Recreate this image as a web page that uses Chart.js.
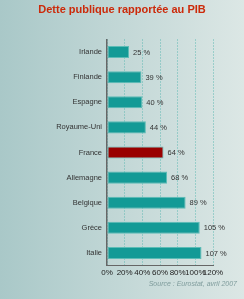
<!DOCTYPE html>
<html>
<head>
<meta charset="utf-8">
<script src="https://cdn.jsdelivr.net/npm/chart.js@4"></script>
<style>
  html, body { margin: 0; padding: 0; }
  canvas { display: block; }
</style>
</head>
<body>
<canvas id="myChart" width="244" height="299"></canvas>
<script>
// données (Eurostat, avril 2007)
var pays = ['Irlande', 'Finlande', 'Espagne', 'Royaume-Uni', 'France', 'Allemagne', 'Belgique', 'Grèce', 'Italie'];
var dette = [25, 39, 40, 44, 64, 68, 89, 105, 107];
var ticks = ['0%', '20%', '40%', '60%', '80%', '100%', '120%'];

var couleurs = pays.map(p => p === 'France' ? '#990000' : '#139a96');

// fond dégradé, titre, source et étiquettes de valeur
const decor = {
    id: 'decor',
    beforeDraw(chart) {
        const c = chart.ctx;
        const g = c.createLinearGradient(0, 0, chart.width, 0);
        g.addColorStop(0, '#a9c8c8');
        g.addColorStop(1, '#dce7e5');
        c.save();
        c.fillStyle = g;
        c.fillRect(0, 0, chart.width, chart.height);
        c.font = 'bold 11px "Liberation Sans", Arial, sans-serif';
        c.fillStyle = '#cc2a0a';
        c.textAlign = 'center';
        c.textBaseline = 'middle';
        c.fillText('Dette publique rapportée au PIB', 122, 9.5);
        c.restore();
    },
    afterDatasetsDraw(chart) {
        const c = chart.ctx;
        const meta = chart.getDatasetMeta(0);
        c.save();
        c.font = '7.5px "Liberation Sans", Arial, sans-serif';
        c.fillStyle = '#333';
        c.textBaseline = 'middle';
        meta.data.forEach((bar, i) => {
            c.fillText(dette[i] + ' %', bar.x + 4, bar.y + 0.5);
        });
        c.font = 'italic 7px "Liberation Sans", Arial, sans-serif';
        c.fillStyle = '#7f9c9c';
        c.textAlign = 'right';
        c.fillText('Source : Eurostat, avril 2007', 237, 284);
        c.restore();
    }
};

const ctx = document.getElementById('myChart');
const chart = new Chart(ctx, {
    type: 'bar',
    data: {
        labels: pays,
        datasets: [{
            data: dette,
            backgroundColor: couleurs,
            borderColor: '#5cbcb6',
            borderWidth: 1,
            borderSkipped: false,
            barPercentage: 0.48,
            categoryPercentage: 1
        }]
    },
    options: {
        indexAxis: 'y',
        responsive: false,
        animation: false,
        layout: { padding: { left: 0, right: 31, top: 39.5, bottom: 0 } },
        plugins: {
            legend: { display: false },
            tooltip: { enabled: false },
            title: { display: false }
        },
        scales: {
            x: {
                min: 0,
                max: 120,
                afterFit: s => { s.height = 33.5; },
                afterBuildTicks: s => { s.ticks = ticks.map((t, i) => ({ value: i * 20 })); },
                ticks: {
                    callback: (v, i) => ticks[i],
                    color: '#222',
                    padding: 2,
                    maxRotation: 0,
                    autoSkip: false,
                    font: { family: '"Liberation Sans", Arial, sans-serif', size: 8 }
                },
                grid: {
                    color: '#5fb9b2',
                    lineWidth: 1,
                    drawTicks: false
                },
                border: { display: true, color: '#666', width: 1, dash: [1, 2] }
            },
            y: {
                afterFit: s => { s.width = 107; },
                ticks: {
                    color: '#333',
                    padding: 5,
                    font: { family: '"Liberation Sans", Arial, sans-serif', size: 7.5 }
                },
                grid: { display: false, drawTicks: false },
                border: { display: true, color: '#666', width: 1.5 }
            }
        }
    },
    plugins: [decor]
});
</script>
</body>
</html>
